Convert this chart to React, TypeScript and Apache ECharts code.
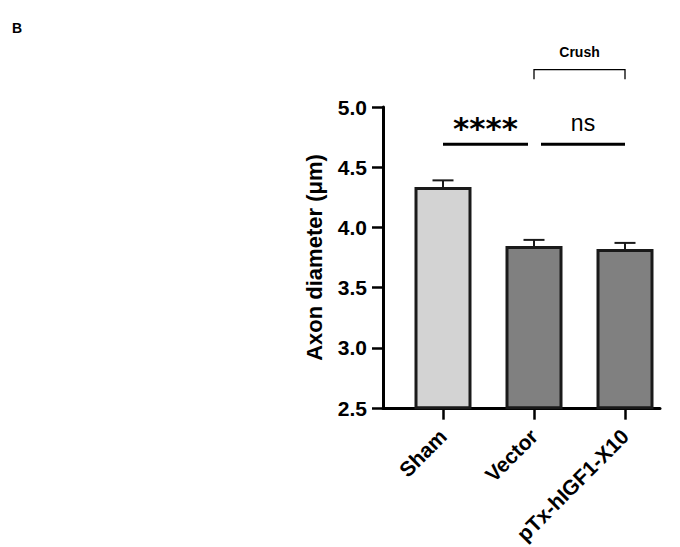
import React, { useEffect, useRef } from 'react';
import * as echarts from 'echarts';

const categories = ['Sham', 'Vector', 'pTx-hIGF1-X10'];
const means = [4.335, 3.845, 3.82];
const sems = [0.055, 0.05, 0.05];
const barColors = ['#d3d3d3', '#808080', '#808080'];
const yMin = 2.5;
const yMax = 5.0;
const yStep = 0.5;
const comparisons = [
  { from: 0, to: 1, label: '****' },
  { from: 1, to: 2, label: 'ns' },
];
const sigLineValue = 4.69;
const crushGroup = { from: 1, to: 2, label: 'Crush', top: 5.31, bottom: 5.23, textAt: 5.46 };

const FONT = '"Liberation Sans", Arial, sans-serif';

export default function App() {
  const ref = useRef<HTMLDivElement>(null);
  useEffect(() => {
    document.body.style.margin = '0';
    document.body.style.overflow = 'hidden';
    const chart = echarts.init(ref.current!, null, { renderer: 'svg' });
    const option: any = {
      animation: false,
      backgroundColor: '#ffffff',
      graphic: [
        {
          type: 'text',
          left: 12,
          top: 21,
          style: { text: 'B', font: `bold 14px ${FONT}`, fill: '#000' },
        },
      ],
      grid: [
        { left: 383, right: 20, top: 107, bottom: 139 },
        { left: 397.5, right: 9.5, top: 107, bottom: 139 },
      ],
      xAxis: [
        {
          gridIndex: 0,
          type: 'value',
          min: 0,
          max: 1,
          axisLine: { show: true, lineStyle: { color: '#000', width: 3 } },
          axisTick: { show: false },
          axisLabel: { show: false },
          splitLine: { show: false },
        },
        {
          gridIndex: 1,
          type: 'category',
          data: categories,
          axisLine: { show: false },
          axisTick: { show: true, alignWithLabel: true, length: 12, lineStyle: { color: '#000', width: 2.5 } },
          axisLabel: {
            rotate: 45,
            margin: 25,
            color: '#000',
            fontWeight: 'bold',
            fontSize: 21,
            fontFamily: FONT,
          },
          splitLine: { show: false },
        },
      ],
      yAxis: [
        {
          gridIndex: 0,
          type: 'value',
          min: yMin,
          max: yMax,
          interval: yStep,
          name: 'Axon diameter (μm)',
          nameLocation: 'middle',
          nameGap: 58,
          nameTextStyle: { color: '#000', fontWeight: 'bold', fontSize: 22, fontFamily: FONT },
          axisLine: { show: true, lineStyle: { color: '#000', width: 3 } },
          axisTick: { show: true, length: 11, lineStyle: { color: '#000', width: 2.5 } },
          axisLabel: {
            margin: 16,
            color: '#000',
            fontWeight: 'bold',
            fontSize: 21,
            fontFamily: FONT,
            formatter: (v: number) => v.toFixed(1),
          },
          splitLine: { show: false },
        },
        {
          gridIndex: 1,
          type: 'value',
          min: yMin,
          max: yMax,
          show: false,
          splitLine: { show: false },
        },
      ],
      series: [
        {
          type: 'bar',
          xAxisIndex: 1,
          yAxisIndex: 1,
          barWidth: 57,
          z: 3,
          data: means.map((m, i) => ({
            value: m,
            itemStyle: { color: barColors[i], borderColor: '#1a1a1a', borderWidth: 3 },
          })),
        },
        {
          type: 'custom',
          xAxisIndex: 1,
          yAxisIndex: 1,
          z: 2,
          data: means.map((m, i) => [i, m, m + sems[i]]),
          encode: { x: 0, y: [1, 2] },
          renderItem: (params: any, api: any) => {
            const base = api.coord([api.value(0), api.value(1)]);
            const top = api.coord([api.value(0), api.value(2)]);
            const half = 10.5;
            const st = { stroke: '#1a1a1a', lineWidth: 2 };
            return {
              type: 'group',
              children: [
                { type: 'line', shape: { x1: base[0], y1: base[1], x2: top[0], y2: top[1] }, style: st },
                { type: 'line', shape: { x1: top[0] - half, y1: top[1], x2: top[0] + half, y2: top[1] }, style: st },
              ],
            };
          },
        },
        {
          type: 'custom',
          xAxisIndex: 1,
          yAxisIndex: 1,
          z: 5,
          clip: false,
          data: [[0, sigLineValue]],
          renderItem: (params: any, api: any) => {
            const children: any[] = [];
            comparisons.forEach((c, k) => {
              const p0 = api.coord([c.from, sigLineValue]);
              const p1 = api.coord([c.to, sigLineValue]);
              const x0 = k === 0 ? p0[0] : p0[0] + 7;
              const x1 = k === 0 ? p1[0] - 6 : p1[0];
              children.push({
                type: 'line',
                shape: { x1: x0, y1: p0[1], x2: x1, y2: p0[1] },
                style: { stroke: '#000', lineWidth: 3 },
              });
              const isStars = c.label !== 'ns';
              children.push({
                type: 'text',
                style: {
                  text: c.label,
                  x: (x0 + x1) / 2,
                  y: isStars ? p0[1] - 16 : p0[1] - 10,
                  align: 'center',
                  verticalAlign: isStars ? 'middle' : 'bottom',
                  font: isStars ? 'bold 31px "DejaVu Sans", sans-serif' : `normal 23px ${FONT}`,
                  fill: '#000',
                },
              });
            });
            const a = api.coord([crushGroup.from, crushGroup.top]);
            const b = api.coord([crushGroup.to, crushGroup.top]);
            const yb = api.coord([crushGroup.from, crushGroup.bottom])[1];
            const yt = api.coord([crushGroup.from, crushGroup.textAt])[1];
            children.push({
              type: 'polyline',
              shape: { points: [[a[0], yb], [a[0], a[1]], [b[0], a[1]], [b[0], yb]] },
              style: { stroke: '#000', lineWidth: 1.3, fill: null },
            });
            children.push({
              type: 'text',
              style: {
                text: crushGroup.label,
                x: (a[0] + b[0]) / 2,
                y: yt,
                align: 'center',
                verticalAlign: 'middle',
                font: `bold 14px ${FONT}`,
                fill: '#000',
              },
            });
            return { type: 'group', children };
          },
        },
      ],
    };
    chart.setOption(option);
    return () => chart.dispose();
  }, []);
  return <div ref={ref} style={{ width: 680, height: 547 }} />;
}
